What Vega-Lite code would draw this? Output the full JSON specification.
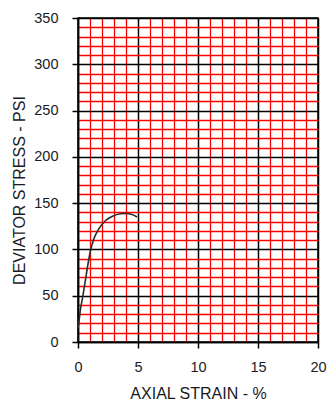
{
  "$schema": "https://vega.github.io/schema/vega-lite/v6.json",
  "autosize": "none",
  "width": 240,
  "height": 324,
  "padding": {"left": 78, "top": 18, "right": 12, "bottom": 63},
  "background": "white",
  "config": {
    "font": "Liberation Sans",
    "view": {"stroke": "#000", "strokeWidth": 1.5},
    "axis": {
      "domainColor": "#000",
      "domainWidth": 1.5,
      "tickColor": "#000",
      "tickWidth": 1.5,
      "tickSize": 6,
      "labelFont": "Liberation Sans",
      "labelFontSize": 14.5,
      "labelColor": "#1a1a24",
      "titleFont": "Liberation Sans",
      "titleFontSize": 16,
      "titleFontWeight": "normal",
      "titleColor": "#1a1a24",
      "grid": true
    }
  },
  "data": {
    "values": [
      {"strain": 0.0, "stress": 15},
      {"strain": 0.06, "stress": 20},
      {"strain": 0.19, "stress": 34},
      {"strain": 0.39, "stress": 48.5},
      {"strain": 0.61, "stress": 66},
      {"strain": 0.83, "stress": 84},
      {"strain": 1.03, "stress": 98},
      {"strain": 1.31, "stress": 111},
      {"strain": 1.72, "stress": 122},
      {"strain": 2.28, "stress": 131},
      {"strain": 2.83, "stress": 135.5},
      {"strain": 3.53, "stress": 138.5},
      {"strain": 3.94, "stress": 138.8},
      {"strain": 4.5, "stress": 137.8},
      {"strain": 4.92, "stress": 135}
    ]
  },
  "mark": {"type": "line", "interpolate": "monotone", "color": "#2b2b2b", "strokeWidth": 1.6},
  "encoding": {
    "x": {
      "field": "strain",
      "type": "quantitative",
      "scale": {"domain": [0, 20], "nice": false, "zero": true},
      "axis": {
        "title": "AXIAL STRAIN - %",
        "values": [0, 1, 2, 3, 4, 5, 6, 7, 8, 9, 10, 11, 12, 13, 14, 15, 16, 17, 18, 19, 20],
        "labelExpr": "datum.value % 5 === 0 ? datum.label : ''",
        "labelPadding": 12,
        "labelFlush": false,
        "labelOverlap": false,
        "gridColor": {"condition": {"test": "datum.value % 5 === 0", "value": "#000"}, "value": "#ff0000"},
        "gridWidth": {"condition": {"test": "datum.value % 5 === 0", "value": 1.5}, "value": 1.3},
        "tickOpacity": {"condition": {"test": "datum.value % 5 === 0", "value": 1}, "value": 0},
        "titlePadding": 12
      }
    },
    "y": {
      "field": "stress",
      "type": "quantitative",
      "scale": {"domain": [0, 350], "nice": false},
      "axis": {
        "title": "DEVIATOR STRESS - PSI",
        "values": [0, 10, 20, 30, 40, 50, 60, 70, 80, 90, 100, 110, 120, 130, 140, 150, 160, 170, 180, 190, 200, 210, 220, 230, 240, 250, 260, 270, 280, 290, 300, 310, 320, 330, 340, 350],
        "labelExpr": "datum.value % 50 === 0 ? datum.label : ''",
        "labelPadding": 14,
        "labelFlush": false,
        "labelOverlap": false,
        "gridColor": {"condition": {"test": "datum.value % 50 === 0", "value": "#000"}, "value": "#ff0000"},
        "gridWidth": {"condition": {"test": "datum.value % 50 === 0", "value": 1.5}, "value": 1.3},
        "tickOpacity": {"condition": {"test": "datum.value % 50 === 0", "value": 1}, "value": 0},
        "titleX": -59,
        "titleY": 172,
        "titleBaseline": "middle",
        "titleAngle": -90
      }
    }
  }
}
